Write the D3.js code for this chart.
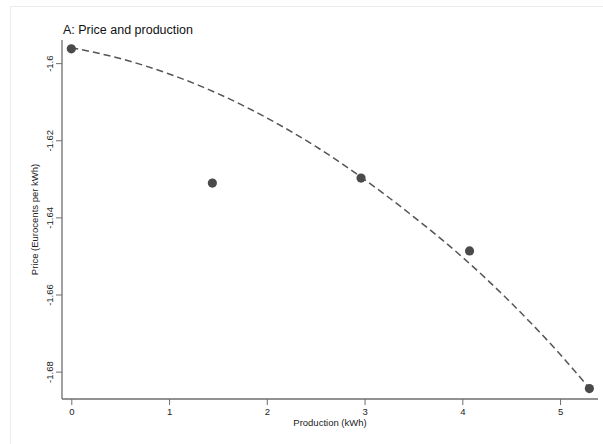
<!DOCTYPE html>
<html>
<head>
<meta charset="utf-8">
<script src="https://cdn.jsdelivr.net/npm/d3@7"></script>
<style>
  body { margin: 0; background: #fff; }
  text { font-family: "Liberation Sans", Arial, sans-serif; }
</style>
</head>
<body>
<div id="chart"></div>
<script>
// binned points
var prodX = [0, 1.443, 2.964, 4.074, 5.30];
var priceY = [-1.5963, -1.6311, -1.6298, -1.6487, -1.6844];

// fitted (dashed) line
var fitX = [0, 0.5, 1, 1.5, 2, 2.5, 3, 3.5, 4, 4.5, 5, 5.3];
var fitY = [-1.5960, -1.5988, -1.6028, -1.6079, -1.6142, -1.6216, -1.6302, -1.6398, -1.6503, -1.6622, -1.6755, -1.6843];

var xTicks = [0, 1, 2, 3, 4, 5];
var yTicks = [-1.6, -1.62, -1.64, -1.66, -1.68];

var svgWidth = 603;
var svgHeight = 444;

var svg = d3.select('#chart')
  .append('svg')
  .attr('width', svgWidth)
  .attr('height', svgHeight);

// light outer frame
svg.append('rect')
  .attr('x', 10.5)
  .attr('y', 6.5)
  .attr('width', 620)
  .attr('height', 460)
  .attr('fill', 'none')
  .attr('stroke', '#ececec');

var x = d3.scaleLinear().domain([-0.0952, 5.388]).range([62, 598]);
var y = d3.scaleLinear().domain([-1.6871, -1.594]).range([399, 40]);

// x axis
var xAxis = svg.append('g')
  .attr('transform', 'translate(0,399)')
  .call(d3.axisBottom(x).tickValues(xTicks).tickSize(6).tickPadding(3).tickFormat(d => String(d)));
xAxis.select('.domain').attr('stroke', '#6e6e6e').attr('stroke-width', 1.3)
  .attr('d', 'M62,0H598');
xAxis.selectAll('.tick line').attr('stroke', '#6e6e6e');
xAxis.selectAll('.tick text').attr('font-size', 9.5).attr('fill', '#222')
  .attr('font-family', '"Liberation Sans", Arial, sans-serif');

// y axis (plain hyphen minus, like the original)
var yAxis = svg.append('g')
  .attr('transform', 'translate(62,0)')
  .call(d3.axisLeft(y).tickValues(yTicks).tickSize(6).tickFormat(d => String(d)));
yAxis.select('.domain').attr('stroke', '#6e6e6e').attr('stroke-width', 1.3)
  .attr('d', 'M0,40V399');
yAxis.selectAll('.tick line').attr('stroke', '#6e6e6e');
yAxis.selectAll('.tick text')
  .attr('font-size', 9.5).attr('fill', '#222')
  .attr('font-family', '"Liberation Sans", Arial, sans-serif')
  .attr('x', null).attr('dy', null)
  .attr('text-anchor', 'middle')
  .attr('transform', 'translate(-9,0) rotate(-90)');

// axis titles
svg.append('text')
  .attr('x', 330)
  .attr('y', 426)
  .attr('text-anchor', 'middle')
  .attr('font-size', 9.5)
  .attr('fill', '#222')
  .text('Production (kWh)');

svg.append('text')
  .attr('transform', 'translate(38,219.5) rotate(-90)')
  .attr('text-anchor', 'middle')
  .attr('font-size', 9.5)
  .attr('fill', '#222')
  .text('Price (Eurocents per kWh)');

// title
svg.append('text')
  .attr('x', 63)
  .attr('y', 34)
  .attr('font-size', 12.5)
  .attr('fill', '#111')
  .text('A: Price and production');

// dashed fit line
var fitData = fitX.map((d, i) => ({ x: d, y: fitY[i] }));
svg.append('path')
  .datum(fitData)
  .attr('fill', 'none')
  .attr('stroke', '#555')
  .attr('stroke-width', 1.5)
  .attr('stroke-dasharray', '7,4')
  .attr('d', d3.line().x(d => x(d.x)).y(d => y(d.y)).curve(d3.curveMonotoneX));

// points
var pts = prodX.map((d, i) => ({ x: d, y: priceY[i] }));
svg.selectAll('circle.pt')
  .data(pts)
  .enter()
  .append('circle')
  .attr('class', 'pt')
  .attr('cx', d => x(d.x))
  .attr('cy', d => y(d.y))
  .attr('r', 4.6)
  .attr('fill', '#4a4a4a');
</script>
</body>
</html>
